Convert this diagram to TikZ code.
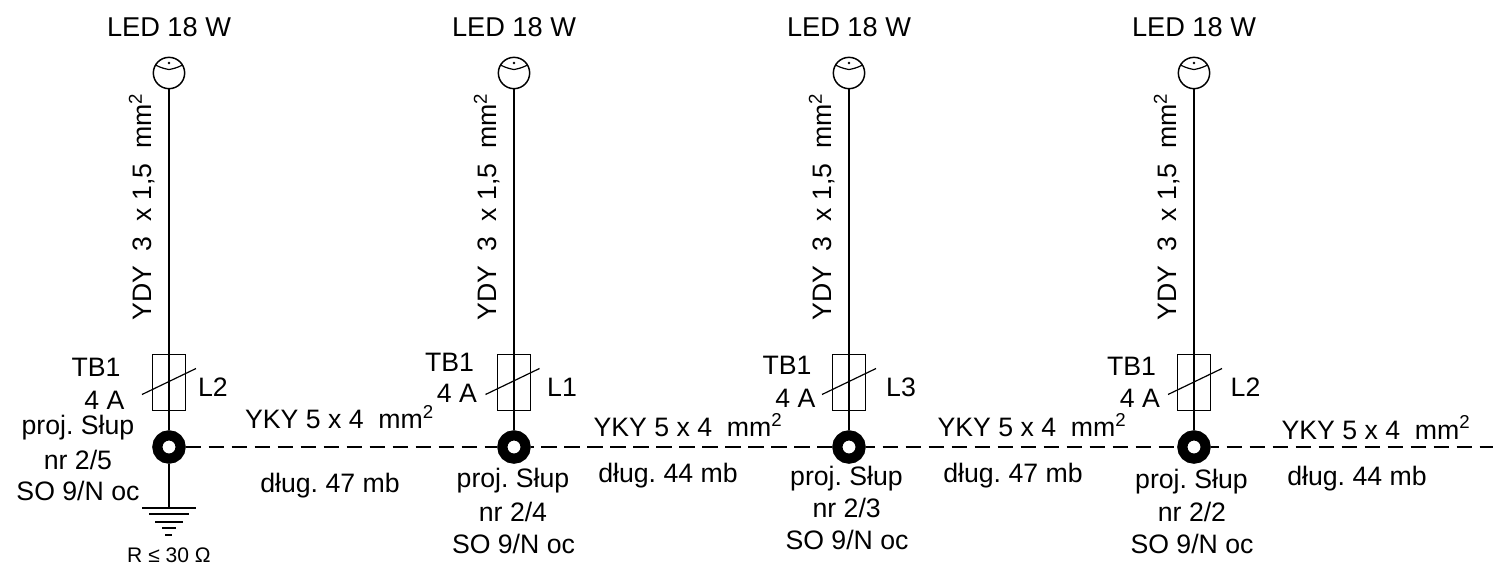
\documentclass[tikz,border=0pt]{standalone}
\usepackage{fontspec}
\usetikzlibrary{calc}
\setmainfont{Liberation Sans}
\frenchspacing
\newcommand{\sqm}{mm\textsuperscript{2}}
\tikzset{
  txt/.style={inner sep=0pt,font=\fontsize{20pt}{24pt}\selectfont,align=center},
  ledtxt/.style={txt,font=\fontsize{20.4pt}{24pt}\selectfont},
  lampc/.style={circle,draw,line width=1.1pt,minimum size=23.5pt,inner sep=0pt},
  fuse/.style={rectangle,draw,line width=0.9pt,minimum width=24.5pt,minimum height=42.5pt,inner sep=0pt},
  pole/.style={circle,draw,line width=7.6pt,minimum size=17.5pt,inner sep=0pt},
  wire/.style={line width=0.9pt},
  cable/.style={line width=0.9pt,dash pattern=on 11.6pt off 5.65pt},
}
\newcommand{\column}[3]{%
  \node[lampc] (lamp#2) at (#1,-73) {};
  \fill ($(lamp#2.center)+(0,10)$) circle (1.1pt);
  \draw[line width=0.9pt] ($(lamp#2.center)+(-13.5,8)$) .. controls ($(lamp#2.center)+(-8,5)$) and ($(lamp#2.center)+(-3,4)$) .. ($(lamp#2.center)+(0,3.5)$) .. controls ($(lamp#2.center)+(3,4)$) and ($(lamp#2.center)+(8,5)$) .. ($(lamp#2.center)+(13.5,8)$);
  \node[fuse] (fuse#2) at (#1,-382.5) {};
  \node[pole] (pole#2) at (#1,-447) {};
  \draw[wire] (lamp#2) -- (pole#2);
  \draw[wire] ($(fuse#2.center)+(#3-27,-12)$) -- ($(fuse#2.center)+(#3+27,14)$);
  \node[txt,rotate=90] (cab#2) at (#1-27,-207) {YDY\ \ 3\ \ x 1,5\ \ \sqm};
  \node[ledtxt] (led#2) at (#1,-27) {LED 18 W};
}
\begin{document}
\begin{tikzpicture}[x=0.75pt,y=0.75pt]
\useasboundingbox (0,0) rectangle (1493,-569);
\column{169}{a}{0}
\column{514}{b}{-1.5}
\column{849}{c}{0}
\column{1194}{d}{1}
\coordinate (end) at (1493,-447);
\draw[cable] (polea) -- (poleb);
\draw[cable,dash phase=9.2pt] (poleb) -- (polec);
\draw[cable,dash phase=4.5pt] (polec) -- (poled);
\draw[cable,dash phase=5.25pt] (poled) -- (end);
% earth
\coordinate (ea) at (169,-508);
\draw[wire] (polea) -- (ea);
\draw[line width=1.1pt] (142,-508) -- (196,-508);
\draw[line width=0.9pt] (149,-514) -- (189,-514);
\draw[line width=0.9pt] (155,-522) -- (183,-522);
\draw[line width=0.9pt] (162,-528) -- (176,-528);
\draw[line width=0.9pt] (165,-535) -- (172,-535);
\node[txt,font=\fontsize{15.8pt}{18pt}\selectfont] (r) at (169,-555) {R ≤ 30 Ω};
% pole a labels
\node[txt] (t1) at (96,-367.5) {TB1};
\node[txt] (t2) at (104.5,-400.5) {4 A};
\node[txt] (l1) at (213,-387) {L2};
\node[txt] (p1) at (78,-428) {proj. Słup};
\node[txt] (p2) at (78,-460) {nr 2/5};
\node[txt] (p3) at (78,-491) {SO 9/N oc};
\node[txt,anchor=base] (y1) at (339.5,-428.3) {YKY 5 x 4\ \ \sqm};
\node[txt] (d1) at (330,-485.7) {dług. 47 mb};
% pole b
\node[txt] (t3) at (449.5,-362) {TB1};
\node[txt] (t4) at (457,-393) {4 A};
\node[txt] (l2) at (562,-387) {L1};
\node[txt] (p4) at (513,-481) {proj. Słup};
\node[txt] (p5) at (513,-512) {nr 2/4};
\node[txt] (p6) at (513.5,-544) {SO 9/N oc};
\node[txt,anchor=base] (y2) at (688,-436.7) {YKY 5 x 4\ \ \sqm};
\node[txt] (d2) at (668,-476) {dług. 44 mb};
% pole c
\node[txt] (t5) at (787,-365.5) {TB1};
\node[txt] (t6) at (795.5,-398) {4 A};
\node[txt] (l3) at (901,-387) {L3};
\node[txt] (p7) at (846.5,-478.7) {proj. Słup};
\node[txt] (p8) at (846.7,-508) {nr 2/3};
\node[txt] (p9) at (847,-540) {SO 9/N oc};
\node[txt,anchor=base] (y3) at (1032,-436.7) {YKY 5 x 4\ \ \sqm};
\node[txt] (d3) at (1013,-476) {dług. 47 mb};
% pole d
\node[txt] (t7) at (1131.5,-366) {TB1};
\node[txt] (t8) at (1140,-398.5) {4 A};
\node[txt] (l4) at (1245.5,-387) {L2};
\node[txt] (p10) at (1191.5,-482) {proj. Słup};
\node[txt] (p11) at (1192,-512) {nr 2/2};
\node[txt] (p12) at (1192,-544) {SO 9/N oc};
\node[txt,anchor=base] (y4) at (1376,-439) {YKY 5 x 4\ \ \sqm};
\node[txt] (d4) at (1357,-478.7) {dług. 44 mb};
\end{tikzpicture}
\end{document}
